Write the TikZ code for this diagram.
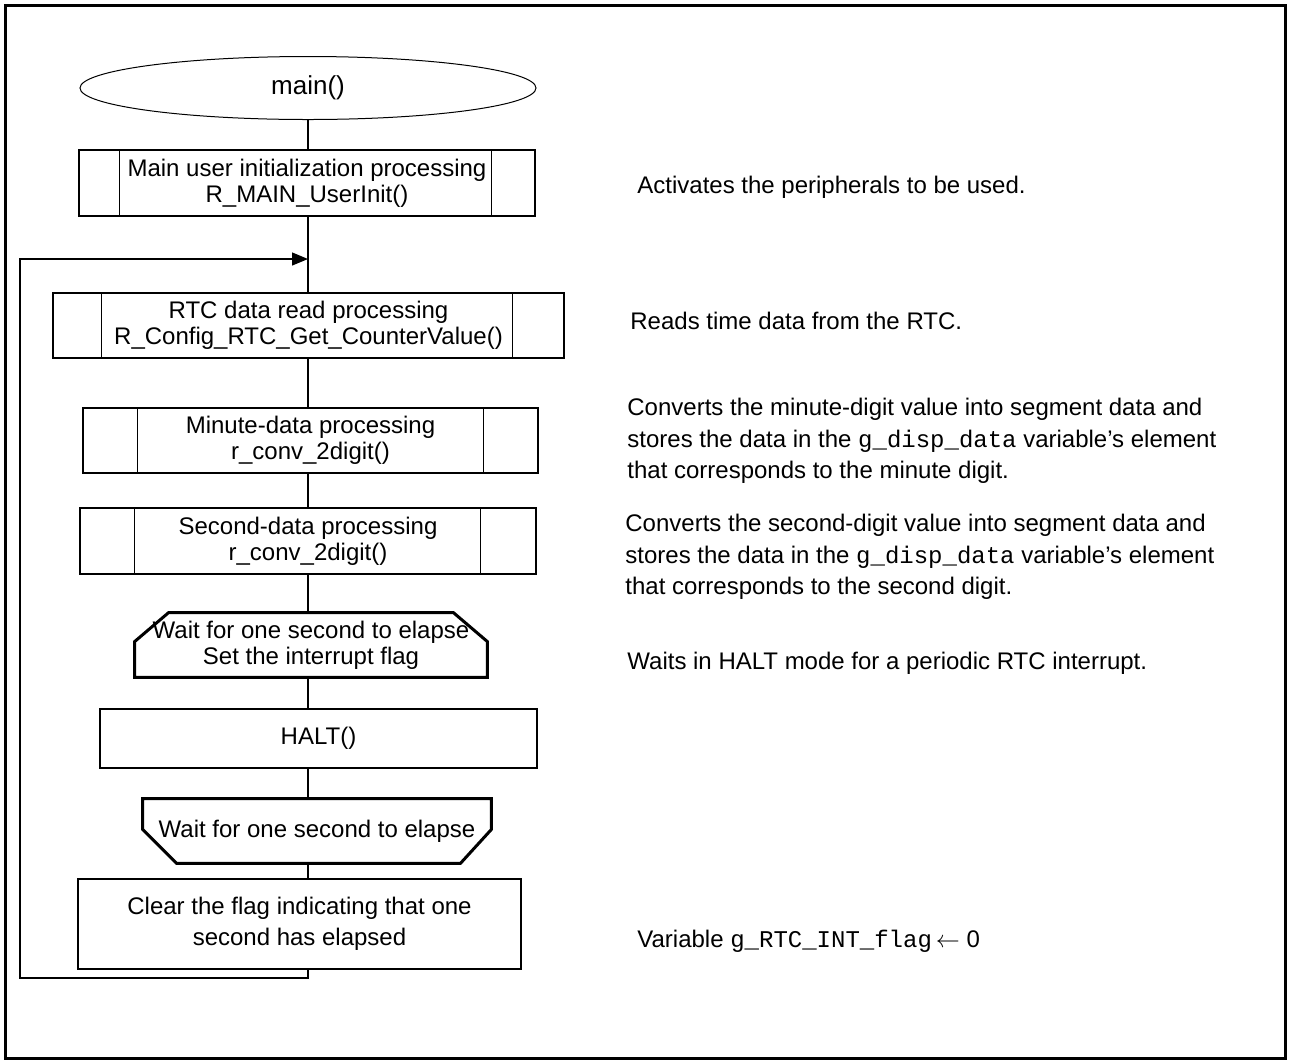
\documentclass[tikz,border=0pt]{standalone}
\usepackage{fontspec}
\setmainfont{Liberation Sans}
\setmonofont{Liberation Mono}
\usetikzlibrary{shapes.geometric,arrows.meta,positioning}

\begin{document}
\begin{tikzpicture}[x=0.5pt,y=-0.5pt,
  every node/.style={font=\fontsize{12}{13}\selectfont},
  proc/.style={draw,line width=0.7pt,inner sep=0pt,align=center},
  term/.style={draw,ellipse,line width=0.5pt,inner sep=0pt,font=\fontsize{13}{14}\selectfont},
  loopbox/.style={inner sep=0pt,align=center},
  note/.style={anchor=west,align=left,inner sep=0pt,font=\fontsize{12}{15.75}\selectfont},
  flow/.style={line width=0.6pt},
  loopedge/.style={line width=1.5pt,line join=miter}]
  \useasboundingbox (0,0) rectangle (1290,1062);
  \draw[line width=1.5pt] (5,5) rectangle (1285,1058); %Outer frame
  \coordinate (spine) at (308,0);

  % Flowchart boxes
  \node[term,minimum width=228pt,minimum height=31.5pt] (main) at (308,88) {main()};
  \node[proc,minimum width=228pt,minimum height=33pt] (init) at (307,183)
    {Main user initialization processing\\R\_MAIN\_UserInit()};
  \node[proc,minimum width=255.5pt,minimum height=32.5pt] (rtc) at (308.5,325.5)
    {RTC data read processing\\R\_Config\_RTC\_Get\_CounterValue()};
  \node[proc,minimum width=227.5pt,minimum height=32.5pt] (minute) at (310.5,440.5)
    {Minute-data processing\\r\_conv\_2digit()};
  \node[proc,minimum width=228pt,minimum height=33pt] (second) at (308,541)
    {Second-data processing\\r\_conv\_2digit()};
  \node[loopbox,minimum width=176pt,minimum height=32pt] (waitbeg) at (311,645)
    {Wait for one second to elapse\\Set the interrupt flag};
  \node[proc,minimum width=218.5pt,minimum height=29.5pt] (halt) at (318.5,738.5) {HALT()};
  \node[loopbox,minimum width=174pt,minimum height=32pt] (waitend) at (317,831)
    {Wait for one second to elapse};
  \node[proc,minimum width=221.5pt,minimum height=45pt,font=\fontsize{12}{15.5}\selectfont] (clear) at (299.5,924)
    {Clear the flag indicating that one\\second has elapsed};

  % Inner lines of the sub-routine boxes
  \draw[line width=0.7pt] ([xshift=20.5pt]init.north west) -- ([xshift=20.5pt]init.south west);
  \draw[line width=0.7pt] ([xshift=-22pt]init.north east) -- ([xshift=-22pt]init.south east);
  \draw[line width=0.7pt] ([xshift=24.5pt]rtc.north west) -- ([xshift=24.5pt]rtc.south west);
  \draw[line width=0.7pt] ([xshift=-26pt]rtc.north east) -- ([xshift=-26pt]rtc.south east);
  \draw[line width=0.7pt] ([xshift=27.5pt]minute.north west) -- ([xshift=27.5pt]minute.south west);
  \draw[line width=0.7pt] ([xshift=-27.5pt]minute.north east) -- ([xshift=-27.5pt]minute.south east);
  \draw[line width=0.7pt] ([xshift=27.5pt]second.north west) -- ([xshift=27.5pt]second.south west);
  \draw[line width=0.7pt] ([xshift=-28pt]second.north east) -- ([xshift=-28pt]second.south east);

  % Loop limits
  \draw[loopedge] ([xshift=17pt]waitbeg.north west) -- ([xshift=-17pt]waitbeg.north east)
    -- ([yshift=-14.5pt]waitbeg.north east) -- (waitbeg.south east)
    -- (waitbeg.south west) -- ([yshift=-14.5pt]waitbeg.north west) -- cycle;
  \draw[loopedge] (waitend.north west) -- (waitend.north east)
    -- ([yshift=17pt]waitend.south east) -- ([xshift=-15.5pt]waitend.south east)
    -- ([xshift=17pt]waitend.south west) -- ([yshift=17pt]waitend.south west) -- cycle;

  % Connectors
  \draw[flow] (main.south) -- (init.north -| main.south);
  \draw[flow] (init.south -| spine) -- (rtc.north -| spine);
  \draw[flow] (rtc.south -| spine) -- (minute.north -| spine);
  \draw[flow] (minute.south -| spine) -- (second.north -| spine);
  \draw[flow] (second.south -| spine) -- (waitbeg.north -| spine);
  \draw[flow] (waitbeg.south -| spine) -- (halt.north -| spine);
  \draw[flow] (halt.south -| spine) -- (waitend.north -| spine);
  \draw[flow] (waitend.south -| spine) -- (clear.north -| spine);

  % Back loop
  \coordinate (loopbot) at (308,978);
  \coordinate (loopleft) at (20,978);
  \coordinate (looptop) at (20,259);
  \coordinate (loopin) at (308,259);
  \draw[flow,-{Triangle[length=8pt,width=6.5pt]}] (clear.south -| spine) -- (loopbot)
    -- (loopleft) -- (looptop) -- (loopin);

  % Comments
  \node[note] (noteinit) at (637,187) {Activates the peripherals to be used.};
  \node[note] (notertc) at (630,321) {Reads time data from the RTC.};
  \node[note] (noteminute) at (627,441) {Converts the minute-digit value into segment data and\\
    stores the data in the \texttt{g\_disp\_data} variable's element\\
    that corresponds to the minute digit.};
  \node[note] (notesecond) at (625,557) {Converts the second-digit value into segment data and\\
    stores the data in the \texttt{g\_disp\_data} variable's element\\
    that corresponds to the second digit.};
  \node[note] (notehalt) at (627,663) {Waits in HALT mode for a periodic RTC interrupt.};
  \node[note] (noteclear) at (637,941) {Variable \texttt{g\_RTC\_INT\_flag}\,$\leftarrow$ 0};
\end{tikzpicture}
\end{document}
